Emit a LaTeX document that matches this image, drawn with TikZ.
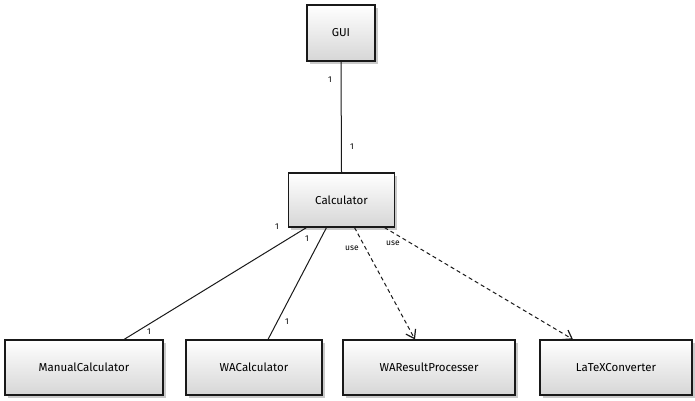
\documentclass[tikz,border=0pt]{standalone}
\usepackage{fontspec}
\setmainfont{Fira Sans}
\usetikzlibrary{shadows,arrows.meta}
\begin{document}
\begin{tikzpicture}[x=1pt,y=-1pt,
  cls/.style={draw=black!90,line width=1.1pt,top color=white,bottom color=black!16,
    drop shadow={shadow xshift=2.5pt,shadow yshift=-2.5pt,fill=black!35,opacity=0.6},
    font=\fontsize{11.5}{13}\selectfont,inner sep=0pt},
  assoc/.style={draw=black!90,line width=1pt},
  dep/.style={draw=black!90,line width=1pt,dash pattern=on 4pt off 3pt,-{Straight Barb[length=8pt,width=11pt,line width=1.2pt]}},
  mult/.style={font=\fontsize{8.5}{10}\selectfont,inner sep=0pt},
  lbl/.style={font=\fontsize{8.5}{10}\selectfont,inner sep=0pt}]
\useasboundingbox (0,0) rectangle (695,400);
\node[cls,minimum width=68pt,minimum height=56pt] (gui) at (341,33) {GUI};
\node[cls,minimum width=106pt,minimum height=54pt] (calc) at (341.5,200) {Calculator};
\node[cls,minimum width=158pt,minimum height=55pt] (man) at (84,367.5) {ManualCalculator};
\node[cls,minimum width=136pt,minimum height=55pt] (wac) at (254,367.5) {WACalculator};
\node[cls,minimum width=172pt,minimum height=55pt] (war) at (429,367.5) {WAResultProcesser};
\node[cls,minimum width=152pt,minimum height=55pt] (ltx) at (616,367.5) {LaTeXConverter};
% connectors
\draw[assoc] (gui.south) -- (calc.north);
\draw[assoc] ([xshift=-35pt]calc.south) -- ([xshift=40pt]man.north);
\draw[assoc] ([xshift=-15pt]calc.south) -- ([xshift=14pt]wac.north);
\draw[dep] ([xshift=13pt]calc.south) -- ([xshift=-14pt]war.north);
\draw[dep] ([xshift=43pt]calc.south) -- ([xshift=-43pt]ltx.north);
% labels
\node[mult] (m1) at (330,80) {1};
\node[mult] (m2) at (352,147) {1};
\node[mult] (m3) at (277,227) {1};
\node[mult] (m4) at (149,332) {1};
\node[mult] (m5) at (307,239) {1};
\node[mult] (m6) at (287,322) {1};
\node[lbl] (u1) at (352,248) {use};
\node[lbl] (u2) at (393,243) {use};
\end{tikzpicture}
\end{document}
